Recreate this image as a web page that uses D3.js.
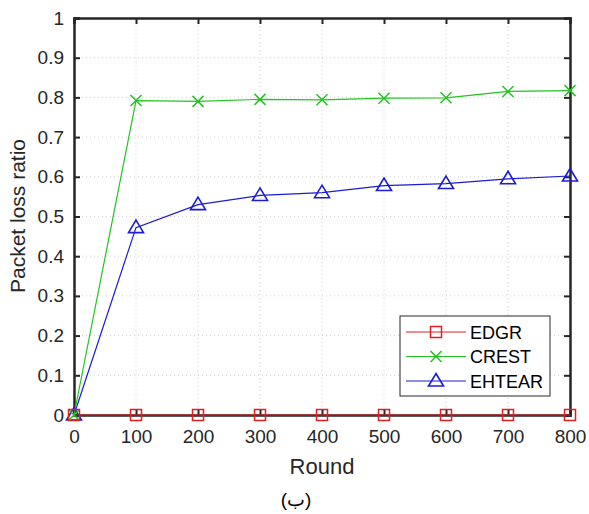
<!DOCTYPE html>
<html><head><meta charset="utf-8">
<script src="https://cdn.jsdelivr.net/npm/d3@7"></script>
<style>body{margin:0;background:#fff;} svg{display:block;font-family:"Liberation Sans",Arial,sans-serif;}</style>
</head><body>
<svg id="c" width="589" height="514"></svg>
<script>
const rounds = [0,100,200,300,400,500,600,700,800];
const edgr   = [0,0,0,0,0,0,0,0,0];
const crest  = [0,0.792,0.790,0.795,0.794,0.798,0.799,0.815,0.817];
const ehtear = [0,0.472,0.530,0.553,0.560,0.578,0.583,0.595,0.602];
const xTicks = [0,100,200,300,400,500,600,700,800];
const yTicks = [0,0.1,0.2,0.3,0.4,0.5,0.6,0.7,0.8,0.9,1];
const seriesNames = ["EDGR","CREST","EHTEAR"];
const seriesColors = ["#e02020","#22c422","#1c1cd4"];

const svg = d3.select("#c");
const L=74,R=570,T=18,B=415;
const x = d3.scaleLinear().domain([0,800]).range([L,R]);
const y = d3.scaleLinear().domain([0,1]).range([B,T]);
const axisCol="#262626";

// grid
const g = svg.append("g");
g.selectAll(".gx").data(xTicks.slice(1,-1)).join("line")
 .attr("x1",d=>x(d)).attr("x2",d=>x(d)).attr("y1",T).attr("y2",B)
 .attr("stroke","#d0d0d0").attr("stroke-width",1).attr("stroke-dasharray","1,3");
g.selectAll(".gy").data(yTicks.slice(1,-1)).join("line")
 .attr("y1",d=>y(d)).attr("y2",d=>y(d)).attr("x1",L).attr("x2",R)
 .attr("stroke","#d0d0d0").attr("stroke-width",1).attr("stroke-dasharray","1,3");

// axes
const fmtY = d=> d===0?"0":d===1?"1":d3.format(".1f")(d);
const ax = svg.append("g").attr("transform",`translate(0,${B})`)
 .call(d3.axisBottom(x).tickValues(xTicks).tickSize(-6).tickPadding(15).tickFormat(d3.format("d")));
const ay = svg.append("g").attr("transform",`translate(${L},0)`)
 .call(d3.axisLeft(y).tickValues(yTicks).tickSize(-6).tickPadding(10).tickFormat(fmtY));
const at = svg.append("g").attr("transform",`translate(0,${T})`)
 .call(d3.axisTop(x).tickValues(xTicks).tickSize(-6).tickFormat(""));
const ar = svg.append("g").attr("transform",`translate(${R},0)`)
 .call(d3.axisRight(y).tickValues(yTicks).tickSize(-6).tickFormat(""));
[ax,ay,at,ar].forEach(a=>{
  a.selectAll("path").attr("stroke",axisCol).attr("stroke-width",2.5);
  a.selectAll("line").attr("stroke",axisCol).attr("stroke-width",2);
  a.selectAll("text").attr("fill","#262626").style("font-size","19px").style("font-family","Liberation Sans, Arial, sans-serif");
});

// series
const data = [edgr,crest,ehtear];
const line = d3.line().x((d,i)=>x(rounds[i])).y(d=>y(d));
function marker(sel,type,color){
  if(type===0){
    sel.append("rect").attr("x",-5.5).attr("y",-5.5).attr("width",11).attr("height",11)
      .attr("fill","none").attr("stroke",color).attr("stroke-width",1.5);
  } else if(type===1){
    sel.append("path").attr("d","M-5.5,-5.5L5.5,5.5M-5.5,5.5L5.5,-5.5").attr("stroke",color).attr("stroke-width",1.5);
  } else {
    sel.append("path").attr("d","M0,-7.5L7.5,5L-7.5,5Z").attr("fill","none").attr("stroke",color).attr("stroke-width",1.6);
  }
}
[2,1,0].forEach(k=>{
  svg.append("path").datum(data[k]).attr("d",line).attr("fill","none")
    .attr("stroke",seriesColors[k]).attr("stroke-width",1.2);
});
[2,1,0].forEach(k=>{
  data[k].forEach((v,i)=>{
    const m = svg.append("g").attr("transform",`translate(${x(rounds[i])},${y(v)})`);
    marker(m,k,seriesColors[k]);
  });
});

// legend
const lg = svg.append("g");
lg.append("rect").attr("x",400).attr("y",316).attr("width",150).attr("height",80)
  .attr("fill","#fff").attr("stroke","#262626").attr("stroke-width",1);
seriesNames.forEach((n,k)=>{
  const yy = 332 + k*24.5;
  lg.append("line").attr("x1",406).attr("x2",466).attr("y1",yy).attr("y2",yy)
    .attr("stroke",seriesColors[k]).attr("stroke-width",1.2);
  const m = lg.append("g").attr("transform",`translate(436,${yy})`);
  marker(m,k,seriesColors[k]);
  lg.append("text").attr("x",470).attr("y",yy+6.5).text(n)
    .attr("fill","#000").style("font-size","18px");
});

// labels
svg.append("text").attr("x",322).attr("y",474).attr("text-anchor","middle")
  .style("font-size","22px").attr("fill","#262626").text("Round");
svg.append("text").attr("transform","translate(25,216) rotate(-90)").attr("text-anchor","middle")
  .style("font-size","21px").attr("fill","#262626").text("Packet loss ratio");
svg.append("text").attr("x",296).attr("y",506).attr("text-anchor","middle")
  .style("font-size","19px").attr("fill","#000").text("(ب)");
</script>
</body></html>
